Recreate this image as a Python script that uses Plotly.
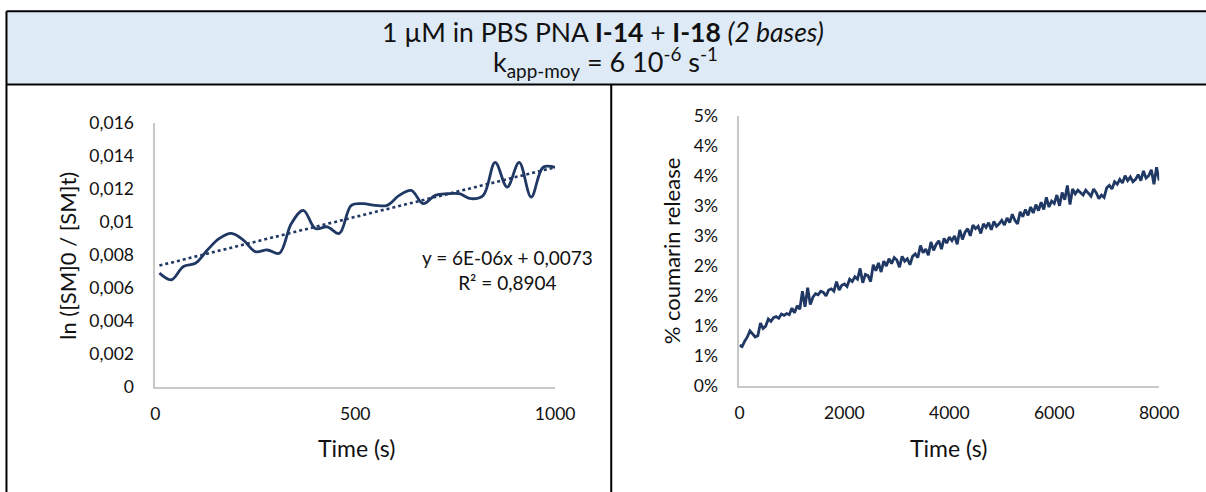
import plotly.graph_objects as go

# Page layout: the body keeps an 8px margin; positions below are given in the
# coordinates of the captured picture and mapped back to page pixels.
PAD = 8
FW, FH = 1232, 504
SX, OX = 0.978, -2.0
SY, OY = 0.956, 3.0

# ---- Left chart: ln([SM]0/[SM]t) vs time ----
ln_time = [10, 40, 70, 100, 130, 160, 190, 220, 250, 280, 310, 340, 370, 400, 430, 460, 490,
           520, 550, 580, 610, 640, 670, 700, 730, 760, 790, 820, 850, 880, 910, 940, 970, 1000]
ln_ratio = [0.0069, 0.0065, 0.0073, 0.0075, 0.0083, 0.0090, 0.0093, 0.0089, 0.0082, 0.0083,
            0.0081, 0.0099, 0.0107, 0.0096, 0.0097, 0.0093, 0.0110, 0.0111, 0.0110, 0.0110,
            0.0116, 0.0119, 0.0111, 0.0116, 0.0117, 0.0117, 0.0114, 0.0116, 0.0136, 0.0121,
            0.0136, 0.0115, 0.0133, 0.0133]
fit_slope = 6e-06
fit_intercept = 0.0073
fit_label = "y = 6E-06x + 0,0073"
fit_r2 = "0,8904"
ln_tickvals = [0, 0.002, 0.004, 0.006, 0.008, 0.010, 0.012, 0.014, 0.016]
ln_ticktext = ["0", "0,002", "0,004", "0,006", "0,008", "0,01", "0,012", "0,014", "0,016"]
ln_xticks = [0, 500, 1000]

# ---- Right chart: % coumarin release vs time (values in %) ----
rel_time = list(range(0, 8001, 50))
rel_pct = [
    0.68, 0.66, 0.75, 0.82, 0.92, 0.86, 0.82, 0.84, 1.05, 0.96,
    1.00, 1.12, 1.08, 1.14, 1.16, 1.13, 1.20, 1.18, 1.21, 1.19,
    1.30, 1.22, 1.34, 1.28, 1.58, 1.32, 1.64, 1.36, 1.48, 1.54,
    1.52, 1.58, 1.56, 1.50, 1.60, 1.62, 1.58, 1.74, 1.60, 1.68,
    1.70, 1.66, 1.78, 1.74, 1.82, 1.78, 1.96, 1.72, 1.86, 1.84,
    1.74, 2.02, 1.92, 2.05, 1.90, 2.08, 2.00, 2.12, 2.04, 2.14,
    2.10, 1.98, 2.16, 2.08, 2.12, 2.02, 2.16, 2.20, 2.14, 2.34,
    2.22, 2.28, 2.18, 2.40, 2.26, 2.36, 2.42, 2.28, 2.46, 2.38,
    2.48, 2.42, 2.50, 2.36, 2.60, 2.44, 2.56, 2.62, 2.50, 2.68,
    2.62, 2.66, 2.54, 2.70, 2.64, 2.72, 2.60, 2.74, 2.66, 2.70,
    2.76, 2.68, 2.80, 2.72, 2.86, 2.76, 2.70, 2.90, 2.82, 2.94,
    2.84, 2.98, 2.88, 3.02, 2.92, 3.06, 2.94, 3.14, 2.98, 3.08,
    3.04, 3.18, 3.00, 3.22, 3.10, 3.34, 3.02, 3.28, 3.20, 3.26,
    3.22, 3.18, 3.26, 3.20, 3.16, 3.28, 3.22, 3.12, 3.18, 3.14,
    3.30, 3.34, 3.28, 3.40, 3.36, 3.44, 3.38, 3.50, 3.42, 3.48,
    3.40, 3.44, 3.52, 3.42, 3.58, 3.46, 3.50, 3.60, 3.36, 3.64,
    3.42,
]
rel_tickvals = [0, 0.5, 1.0, 1.5, 2.0, 2.5, 3.0, 3.5, 4.0, 4.5]
rel_ticktext = ["0%", "1%", "1%", "2%", "2%", "3%", "3%", "4%", "4%", "5%"]
rel_xticks = [0, 2000, 4000, 6000, 8000]

NAVY = "#203864"
AXIS_GRAY = "#C8C8C8"
FONT = "Lato"
TXT = "#111111"


def px(x):
    """picture x -> paper fraction"""
    return ((x - OX) / SX - PAD) / FW


def py(y):
    """picture y (from top) -> paper fraction"""
    return 1 - ((y - OY) / SY - PAD) / FH


fig = go.Figure()

fig.add_trace(go.Scatter(x=ln_time, y=ln_ratio, mode="lines",
                         line=dict(color=NAVY, width=2.8, shape="spline", smoothing=1.0),
                         xaxis="x", yaxis="y", showlegend=False))
fit_x = [ln_time[0], ln_time[-1]]
fit_y = [fit_slope * t + fit_intercept for t in fit_x]
fig.add_trace(go.Scatter(x=fit_x, y=fit_y, mode="lines",
                         line=dict(color=NAVY, width=2.6, dash="dot"),
                         xaxis="x", yaxis="y", showlegend=False))

fig.add_trace(go.Scatter(x=rel_time, y=rel_pct, mode="lines",
                         line=dict(color=NAVY, width=2.8),
                         xaxis="x2", yaxis="y2", showlegend=False))

axis_common = dict(showgrid=False, zeroline=False, showline=True, linecolor=AXIS_GRAY,
                   linewidth=2, ticks="", tickfont=dict(family=FONT, size=17.5, color=TXT),
                   fixedrange=True)

fig.update_layout(
    width=FW, height=FH,
    margin=dict(l=0, r=0, t=0, b=0),
    paper_bgcolor="white", plot_bgcolor="white",
    xaxis=dict(domain=[px(156), px(555)], range=[0, 1000], tickvals=ln_xticks,
               ticktext=[str(v) for v in ln_xticks], anchor="y", ticklabelstandoff=10,
               **axis_common),
    yaxis=dict(domain=[py(386), py(122)], range=[0, 0.016], tickvals=ln_tickvals,
               ticktext=ln_ticktext, anchor="x", ticklabelstandoff=16, **axis_common),
    xaxis2=dict(domain=[px(739), px(1158)], range=[0, 8000], tickvals=rel_xticks,
                ticktext=[str(v) for v in rel_xticks], anchor="y2", ticklabelstandoff=10,
                **axis_common),
    yaxis2=dict(domain=[py(385), py(115)], range=[0, 4.5], tickvals=rel_tickvals,
                ticktext=rel_ticktext, anchor="x2", ticklabelstandoff=16, **axis_common),
)

# table frame: shaded header row and the cell borders
LEFT = 1.5 / FW
shapes = [
    dict(type="rect", xref="paper", yref="paper", x0=LEFT, x1=1, y0=py(84), y1=py(11),
         fillcolor="#DEEAF6", line=dict(width=0), layer="below"),
    dict(type="line", xref="paper", yref="paper", x0=LEFT, x1=1, y0=py(11), y1=py(11),
         line=dict(color="black", width=2)),
    dict(type="line", xref="paper", yref="paper", x0=LEFT, x1=1, y0=py(84), y1=py(84),
         line=dict(color="black", width=2)),
    dict(type="line", xref="paper", yref="paper", x0=LEFT, x1=LEFT, y0=py(11), y1=0,
         line=dict(color="black", width=2)),
    dict(type="line", xref="paper", yref="paper", x0=px(611), x1=px(611), y0=py(84), y1=0,
         line=dict(color="black", width=2)),
]
fig.update_layout(shapes=shapes)

ann = [
    dict(text="1 µM in PBS PNA <b>I-14</b> + <b>I-18</b> <i>(2 bases)</i>",
         x=px(603), y=py(32), font=dict(size=26.5)),
    dict(text="k<sub>app-moy</sub> = 6 10<sup>-6</sup> s<sup>-1</sup>",
         x=px(605), y=py(61.5), font=dict(size=27)),
    dict(text="Time (s)", x=px(357), y=py(447), font=dict(size=23)),
    dict(text="Time (s)", x=px(948), y=py(447), font=dict(size=23)),
    dict(text="ln ([SM]0 / [SM]t)", x=px(68), y=py(254.5), textangle=-90, font=dict(size=22)),
    dict(text="% coumarin release", x=px(672), y=py(250), textangle=-90, font=dict(size=22)),
    dict(text=f"{fit_label}<br>R² = {fit_r2}",
         x=px(507), y=py(269), align="center", font=dict(size=19)),
]
for a in ann:
    f = dict(family=FONT, color=TXT)
    f.update(a.pop("font"))
    fig.add_annotation(xref="paper", yref="paper", showarrow=False, xanchor="center",
                       yanchor="middle", font=f, **a)

fig.write_html("out.html")
